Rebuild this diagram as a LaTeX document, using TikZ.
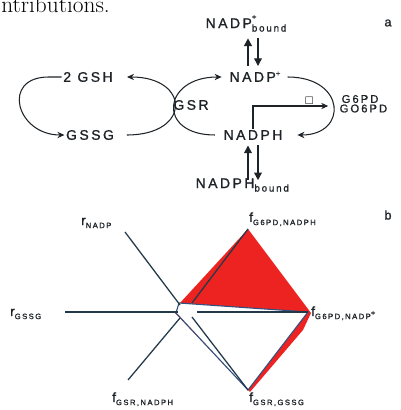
\documentclass[tikz,border=0pt]{standalone}
\usepackage{fontspec}
\usepackage{amssymb}
\usetikzlibrary{positioning,arrows.meta,calc}
\newfontfamily\chem[LetterSpace=18,FakeBold=1.2]{Liberation Sans}
\definecolor{ink}{HTML}{1E2328}
\definecolor{axisc}{HTML}{22394A}
\definecolor{polyc}{HTML}{34507E}
\definecolor{fillr}{HTML}{EC2320}
\newcommand{\bnd}[1]{\raisebox{-2.5pt}{\fontsize{7}{7}\selectfont #1}}
\newcommand{\chg}{\fontsize{5.5}{5.5}\selectfont +}
\newcommand{\coefsub}[2]{{\fontsize{9.5}{10}\selectfont #1}\raisebox{-2.2pt}{\fontsize{5.5}{6}\selectfont #2}}

\begin{document}
\begin{tikzpicture}[
  x=0.025cm, y=0.025cm,
  >={Stealth[length=5pt,width=4.5pt]},
  mol/.style={font=\chem\fontsize{9.9}{11}\selectfont, text=ink, inner sep=1pt},
  enz/.style={font=\chem\fontsize{8}{8}\selectfont, text=ink, inner sep=1pt, anchor=west},
  arr/.style={->, draw=ink, line width=0.75pt},
  xch/.style={-{Triangle[length=5.5pt,width=5.5pt]}, draw=ink, line width=1pt},
  spoke/.style={draw=axisc, line width=0.9pt},
  tag/.style={font=\chem\fontsize{9}{9}\selectfont, text=ink, inner sep=0pt},
  coef/.style={font=\chem, text=ink, inner sep=0pt, anchor=base west}
]
\useasboundingbox (0,0) rectangle (401,410);

% end of the text line above the figure
\node[anchor=base west, inner sep=0pt, font=\fontsize{16.6}{18}\selectfont] (intro) at (1,397) {ntributions.};

% (a) reaction scheme
\node[mol, anchor=base west] (nadpb) at (204,382) {NADP\rlap{\raisebox{6pt}{\chg}}\bnd{bound}};
\node[mol] (nadp) at (255,333) {NADP\smash{\raisebox{4pt}{\chg}}};
\node[mol] (nadph) at (253,275) {NADPH};
\node[mol, anchor=base west] (nadphb) at (194,222) {NADPH\bnd{bound}};
\node[mol] (gsh) at (88,333) {2 GSH};
\node[mol] (gssg) at (90,275) {GSSG};
\node[mol] (gsr) at (191,305) {GSR};
\node[enz] (g6pd) at (340,311) {G6PD};
\node[enz] (go6pd) at (338,301.5) {GO6PD};
\node[tag] (la) at (388,387) {a};

\draw[xch] ([shift={(-7,4.5)}]nadp.north) -- ([shift={(-7,-5)}]nadp.north |- nadpb.south);
\draw[xch] ([shift={(3,-5)}]nadp.north |- nadpb.south) -- ([shift={(3,4.5)}]nadp.north);
\draw[xch] ([shift={(-5,-3.5)}]nadph.north |- nadphb.north) -- ([shift={(-5,-4)}]nadph.south);
\draw[xch] ([shift={(5,-4)}]nadph.south) -- ([shift={(5,-3.5)}]nadph.north |- nadphb.north);

\draw[arr] (gsh.west) -- ++(-13,0) to[out=180, in=180, distance=1.2cm] (gssg.west);
\draw[arr, shorten <=8pt, shorten >=9pt] (gssg.east) to[out=0, in=0, distance=1.9cm] (gsh.east);
\draw[arr, shorten <=5pt, shorten >=4.5pt] (nadph.west) to[out=180, in=180, distance=1.64cm] (nadp.west);
\draw[arr, shorten <=4pt, shorten >=9.5pt] (nadp.east) to[out=0, in=0, distance=1.6cm]
  coordinate[pos=0.5] (g6mid) (nadph.east);
\draw[arr, shorten >=2pt] (nadph.north) |- node[pos=0.86, above=1pt, inner sep=0pt, font=\fontsize{7}{7}\selectfont] (inh) {$\square$} (g6mid);

% (b) control coefficients
\coordinate (gsgOut) at (65,98);   \coordinate (gsgIn) at (178,98);
\coordinate (g6nOut) at (308,98);  \coordinate (g6nIn) at (197,98);
\coordinate (ndpOut) at (125,178); \coordinate (ndpIn) at (180,105);
\coordinate (g6hOut) at (248,181); \coordinate (g6hIn) at (192,107);
\coordinate (grhOut) at (128,30);  \coordinate (grhIn) at (180,92);
\coordinate (grgOut) at (248,20);  \coordinate (grgIn) at (192,93);

\fill[fillr] (180,107) -- (g6hOut) -- (311,97) -- (303,80) -- (250,18) -- (175,97) -- cycle;
\filldraw[fill=white, draw=polyc, line width=0.8pt] (179,107) -- (g6nOut) -- (grgOut) -- (176,97) -- cycle;

\foreach \a/\b in {gsgOut/gsgIn, g6nOut/g6nIn, ndpOut/ndpIn, g6hOut/g6hIn, grhOut/grhIn, grgOut/grgIn}
  \draw[spoke] (\a) -- (\b);

\node[coef] (cGSSG) at (10,94) {\coefsub{r}{GSSG}};
\node[coef] (cNADP) at (81,185) {\coefsub{r}{NADP}};
\node[coef] (cG6H) at (249,188) {\coefsub{f}{G6PD,NADPH}};
\node[coef] (cG6N) at (311,94) {\coefsub{f}{G6PD,NADP\raisebox{2.5pt}{+}}};
\node[coef] (cGRH) at (112,8) {\coefsub{f}{GSR,NADPH}};
\node[coef] (cGRG) at (249,8) {\coefsub{f}{GSR,GSSG}};
\node[tag] (lb) at (388,195) {b};
\end{tikzpicture}
\end{document}
